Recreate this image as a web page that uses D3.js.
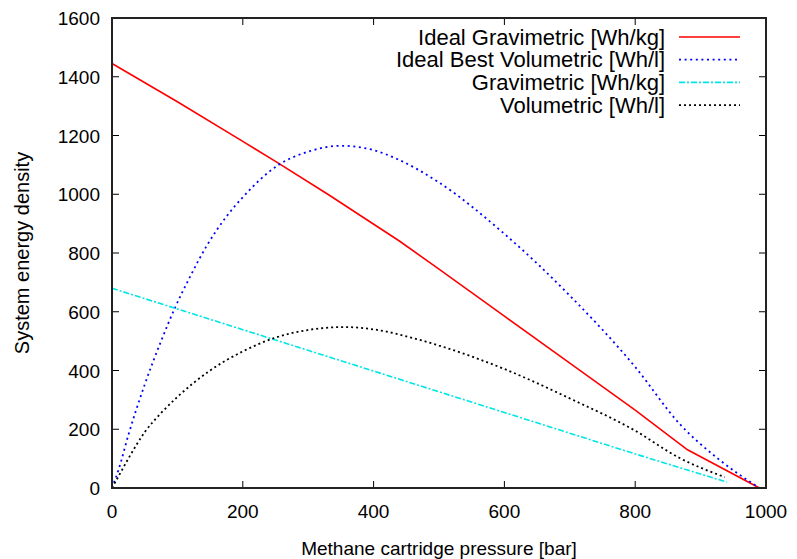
<!DOCTYPE html>
<html>
<head>
<meta charset="utf-8">
<script src="https://cdn.jsdelivr.net/npm/d3@7"></script>
<style>
  body { margin: 0; background: #fff; }
  text { font-family: "Liberation Sans", Arial, sans-serif; fill: #000; }
</style>
</head>
<body>
<div id="chart"></div>
<script>
// pressure [bar] / energy density pairs
const idealGrav = [[0,1445],[100,1315],[200,1180],[250,1112],[330,1000],[440,840],[500,745],[600,585],[700,425],[800,265],[880,130],[990,0]]
const idealVol = [[0,0],[10,62],[25,180],[50,352],[75,500],[96,612],[120,722],[145,825],[175,924],[200,990],[254,1099],[300,1145],[350,1165],[400,1150],[436,1120],[500,1040],[600,865],[700,655],[800,412],[868,218],[927,99],[990,0]]
const grav = [[0,680],[200,539],[400,398],[600,257],[800,116],[940,20]]
const vol = [[0,0],[10,40],[25,100],[50,190],[75,255],[100,310],[150,400],[200,465],[250,512],[300,538],[355,548],[400,540],[466,507],[500,485],[600,405],[700,305],[800,195],[868,102],[937,37]]

const xTicks = [0, 200, 400, 600, 800, 1000]
const yTicks = [0, 200, 400, 600, 800, 1000, 1200, 1400, 1600]

const seriesNames = ['Ideal Gravimetric [Wh/kg]', 'Ideal Best Volumetric [Wh/l]', 'Gravimetric [Wh/kg]', 'Volumetric [Wh/l]']
const seriesData = [idealGrav, idealVol, grav, vol]

const W = 797, H = 559
const margin = { top: 18, right: 31, bottom: 71, left: 112 }

const svg = d3.select('#chart').append('svg')
    .attr('width', W)
    .attr('height', H)

const x = d3.scaleLinear().domain([0, 1000]).range([margin.left, W - margin.right])
const y = d3.scaleLinear().domain([0, 1600]).range([H - margin.bottom, margin.top])

const styles = [
    { color: '#ff0000', dash: null, width: 1.6, curve: d3.curveLinear },
    { color: '#0000ff', dash: '2,3.6', width: 1.8, curve: d3.curveMonotoneX },
    { color: '#00e5e5', dash: '6,2,2,2', width: 1.6, curve: d3.curveLinear },
    { color: '#000000', dash: '2,3', width: 1.8, curve: d3.curveMonotoneX }
]

// ticks on all four sides, pointing in
const tickLen = 7
const axisG = svg.append('g').attr('stroke', '#000').attr('stroke-width', 1)
xTicks.forEach(t => {
    axisG.append('line').attr('x1', x(t)).attr('x2', x(t)).attr('y1', y(0)).attr('y2', y(0) - tickLen)
    axisG.append('line').attr('x1', x(t)).attr('x2', x(t)).attr('y1', y(1600)).attr('y2', y(1600) + tickLen)
})
yTicks.forEach(t => {
    axisG.append('line').attr('x1', x(0)).attr('x2', x(0) + tickLen).attr('y1', y(t)).attr('y2', y(t))
    axisG.append('line').attr('x1', x(1000)).attr('x2', x(1000) - tickLen).attr('y1', y(t)).attr('y2', y(t))
})

svg.append('g').selectAll('text').data(xTicks).join('text')
    .attr('x', d => x(d))
    .attr('y', y(0) + 30)
    .attr('text-anchor', 'middle')
    .attr('font-size', 19)
    .text(d => d)

svg.append('g').selectAll('text').data(yTicks).join('text')
    .attr('x', x(0) - 12)
    .attr('y', d => y(d) + 7)
    .attr('text-anchor', 'end')
    .attr('font-size', 19)
    .text(d => d)

svg.append('text')
    .attr('x', (x(0) + x(1000)) / 2)
    .attr('y', 555)
    .attr('text-anchor', 'middle')
    .attr('font-size', 19)
    .text('Methane cartridge pressure [bar]')

svg.append('text')
    .attr('transform', 'translate(29,' + (y(800)) + ') rotate(-90)')
    .attr('text-anchor', 'middle')
    .attr('font-size', 20)
    .text('System energy density')

const lines = svg.append('g')
seriesData.forEach((s, i) => {
    const line = d3.line().x(d => x(d[0])).y(d => y(d[1])).curve(styles[i].curve)
    lines.append('path')
        .datum(s)
        .attr('fill', 'none')
        .attr('stroke', styles[i].color)
        .attr('stroke-width', styles[i].width)
        .attr('stroke-dasharray', styles[i].dash)
        .attr('d', line)
})

// legend
const legend = svg.append('g')
seriesNames.forEach((name, i) => {
    const ly = 37 + i * 22.7
    legend.append('text')
        .attr('x', 665)
        .attr('y', ly + 7.5)
        .attr('text-anchor', 'end')
        .attr('font-size', 22)
        .text(name)
    legend.append('line')
        .attr('x1', 679).attr('x2', 740)
        .attr('y1', ly).attr('y2', ly)
        .attr('stroke', styles[i].color)
        .attr('stroke-width', styles[i].width)
        .attr('stroke-dasharray', styles[i].dash)
})

svg.append('rect')
    .attr('x', x(0)).attr('y', y(1600))
    .attr('width', x(1000) - x(0)).attr('height', y(0) - y(1600))
    .attr('fill', 'none')
    .attr('stroke', '#222')
    .attr('stroke-width', 2)
</script>
</body>
</html>
